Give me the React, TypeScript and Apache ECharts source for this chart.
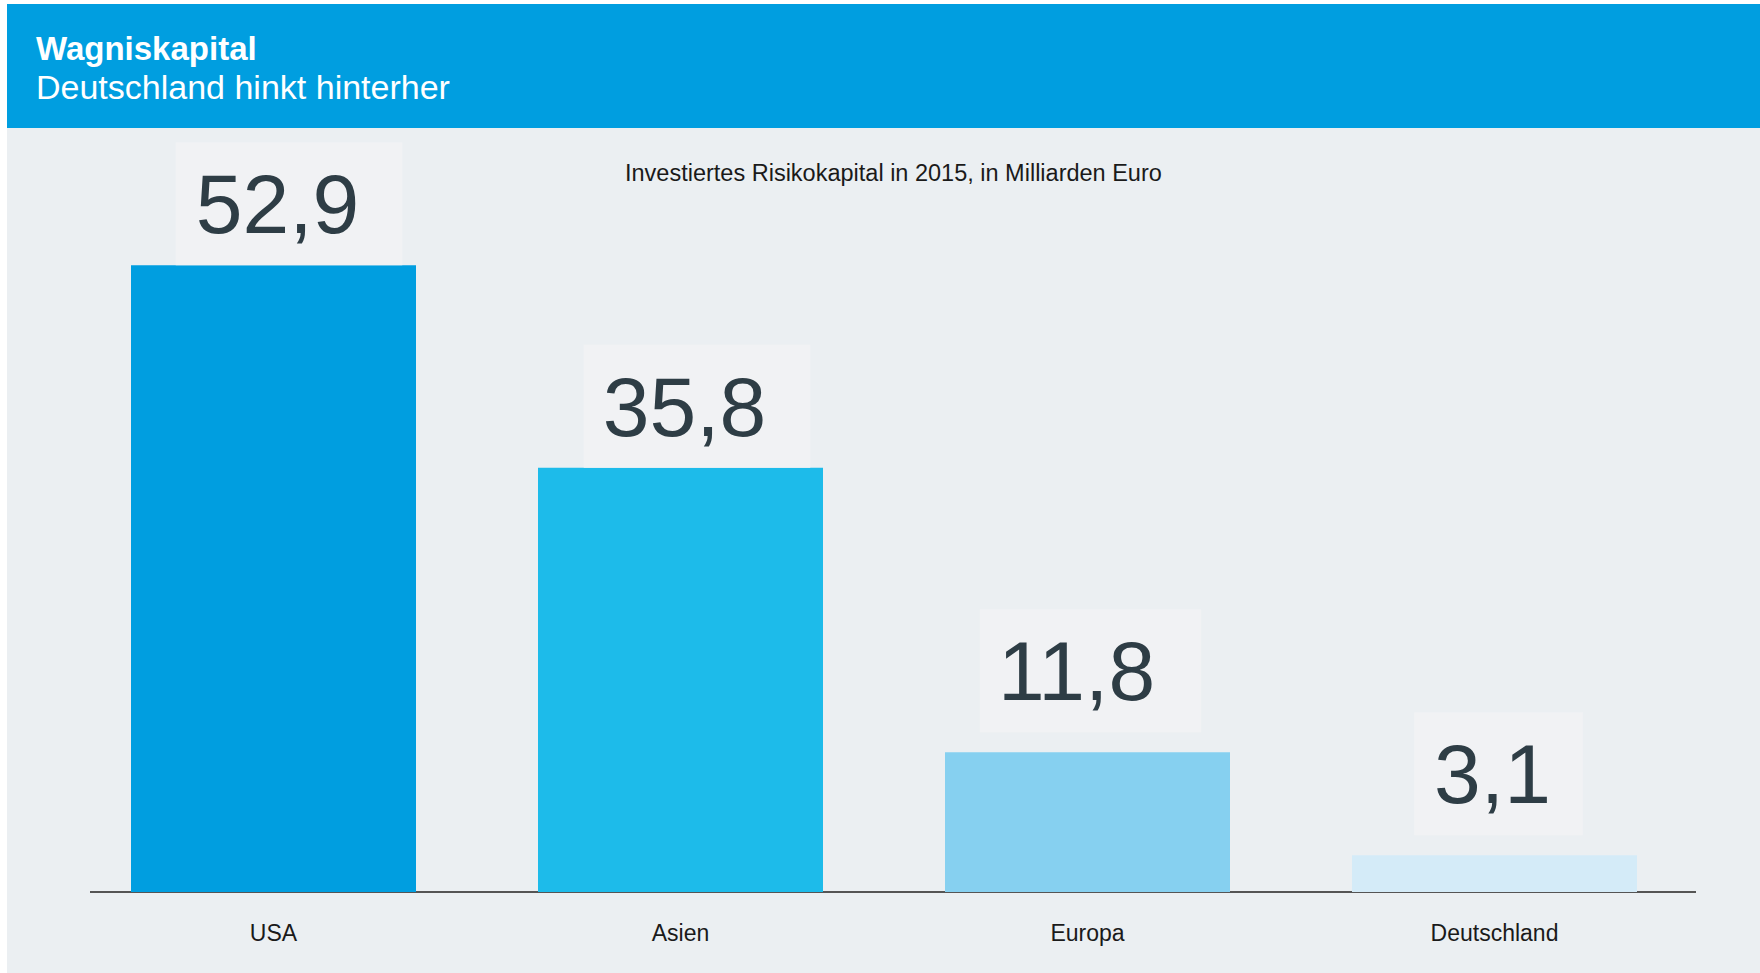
import React, { useEffect, useRef } from "react";
import * as echarts from "echarts";

const categories: string[] = ["USA", "Asien", "Europa", "Deutschland"];
const values: number[] = [52.9, 35.8, 11.8, 3.1];

const titleText = "Wagniskapital";
const subtitleText = "Deutschland hinkt hinterher";
const chartCaption = "Investiertes Risikokapital in 2015, in Milliarden Euro";

const barColors = ["#009EE0", "#1DBBEA", "#86D0F0", "#D4EBF8"];
const labelDistances = [0, 0, 20, 20];
const labelOffsets = [15.5, 16.5, 3, 4];
const labelPads = [
  [20, 43, 19, 20],
  [20, 44, 19, 19],
  [20, 46, 19, 18],
  [20, 32, 19, 20],
];

const FONT = "'Liberation Sans', Arial, Helvetica, sans-serif";

export default function App() {
  const ref = useRef<HTMLDivElement>(null);

  useEffect(() => {
    if (!ref.current) return;
    const chart = echarts.init(ref.current, undefined, { renderer: "svg" });

    const data = values.map((v, i) => ({
      value: v,
      itemStyle: { color: barColors[i] },
      label: {
        distance: labelDistances[i],
        offset: [labelOffsets[i], 0],
        padding: labelPads[i],
      },
    }));

    chart.setOption({
      animation: false,
      backgroundColor: "#FFFFFF",
      textStyle: { fontFamily: FONT },
      grid: { left: 70, right: 62, top: 181, bottom: 81, containLabel: false },
      xAxis: {
        type: "category",
        data: categories,
        axisLine: { show: false },
        axisTick: { show: false },
        axisLabel: {
          fontSize: 23,
          color: "#1A1A1A",
          fontFamily: FONT,
          margin: 29,
        },
        splitLine: { show: false },
      },
      yAxis: {
        type: "value",
        min: 0,
        max: 60,
        show: false,
        splitLine: { show: false },
      },
      graphic: [
        {
          type: "rect",
          z: -10,
          shape: { x: 7, y: 4, width: 1753, height: 124 },
          style: { fill: "#009EE0" },
        },
        {
          type: "rect",
          z: -10,
          shape: { x: 7, y: 128, width: 1753, height: 845 },
          style: { fill: "#EBEFF2" },
        },
        {
          type: "text",
          z: 5,
          x: 36,
          y: 48,
          style: {
            text: titleText,
            fill: "#FFFFFF",
            font: `bold 33px ${FONT}`,
            textAlign: "left",
            textVerticalAlign: "middle",
          },
        },
        {
          type: "text",
          z: 5,
          x: 36,
          y: 87,
          style: {
            text: subtitleText,
            fill: "#FFFFFF",
            font: `34px ${FONT}`,
            textAlign: "left",
            textVerticalAlign: "middle",
          },
        },
        {
          type: "text",
          z: 5,
          x: 625,
          y: 173,
          style: {
            text: chartCaption,
            fill: "#1A1A1A",
            font: `23.5px ${FONT}`,
            textAlign: "left",
            textVerticalAlign: "middle",
          },
        },
        {
          type: "line",
          z: 0,
          shape: { x1: 90, y1: 892, x2: 1696, y2: 892 },
          style: { stroke: "#555555", lineWidth: 2 },
        },
      ],
      series: [
        {
          type: "bar",
          data,
          barWidth: 285,
          z: 2,
          label: {
            show: true,
            position: "top",
            formatter: (p: any) => Number(p.value).toFixed(1).replace(".", ","),
            fontSize: 84,
            lineHeight: 84,
            fontFamily: FONT,
            color: "#2E3D45",
            backgroundColor: "#F1F2F4",
          },
        },
      ],
    });

    return () => chart.dispose();
  }, []);

  return (
    <div
      ref={ref}
      style={{ position: "absolute", left: 0, top: 0, width: 1760, height: 973 }}
    />
  );
}
